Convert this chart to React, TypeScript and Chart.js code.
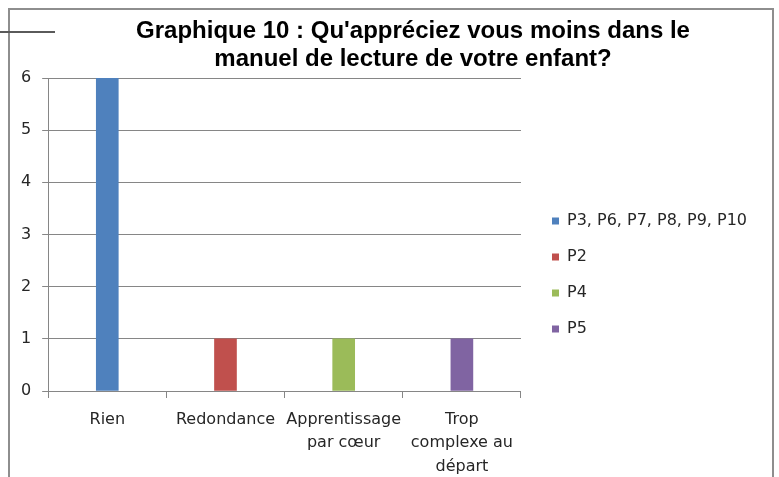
import React, { useEffect, useRef } from "react";
import { Chart, registerables } from "chart.js";

Chart.register(...registerables);

// ---- data ----
const titleLines = [
  "Graphique 10 : Qu'appréciez vous moins dans le",
  "manuel de lecture de votre enfant?",
];
const categories: (string | string[])[] = [
  "Rien",
  "Redondance",
  ["Apprentissage", "par cœur"],
  ["Trop", "complexe au", "départ"],
];
const seriesNames = ["P3, P6, P7, P8, P9, P10", "P2", "P4", "P5"];
const seriesP3toP10 = [6, null, null, null];
const seriesP2 = [null, 1, null, null];
const seriesP4 = [null, null, 1, null];
const seriesP5 = [null, null, null, 1];
const yMin = 0;
const yMax = 6;
const yStep = 1;

// ---- styles ----
const seriesColors = ["#4F81BD", "#C0504D", "#9BBB59", "#8064A2"];
const gridColor = "#868686";
const textColor = "#262626";
const labelFont = { family: "'DejaVu Sans', sans-serif", size: 16 };

export default function App() {
  const ref = useRef<HTMLCanvasElement | null>(null);

  useEffect(() => {
    if (!ref.current) return;
    const values = [seriesP3toP10, seriesP2, seriesP4, seriesP5];
    const chart = new Chart(ref.current, {
      type: "bar",
      data: {
        labels: categories,
        datasets: seriesNames.map((name, i) => ({
          label: name,
          data: values[i],
          backgroundColor: seriesColors[i],
          borderWidth: 0,
          barThickness: 22,
          skipNull: true,
        })),
      },
      options: {
        animation: false,
        responsive: false,
        layout: { padding: 0 },
        plugins: {
          title: {
            display: true,
            text: titleLines,
            color: "#000000",
            font: { family: "'Liberation Sans', Arial, sans-serif", size: 24, weight: "bold", lineHeight: 1.1667 },
            padding: { top: 7.5, bottom: 4.5 },
          },
          legend: {
            display: true,
            position: "right",
            align: "center",
            maxWidth: 320,
            labels: {
              boxWidth: 7,
              boxHeight: 7,
              padding: 20,
              color: textColor,
              font: labelFont,
            },
          },
          tooltip: { enabled: false },
        },
        scales: {
          x: {
            type: "category",
            offset: true,
            grid: {
              display: true,
              drawOnChartArea: false,
              drawTicks: true,
              tickLength: 7,
              color: gridColor,
              offset: true,
            },
            border: { display: true, color: gridColor, width: 1 },
            ticks: {
              color: textColor,
              font: { ...labelFont, lineHeight: 1.47 },
              padding: 10,
              maxRotation: 0,
              minRotation: 0,
              autoSkip: false,
            },
            afterFit: (s: any) => {
              s.height = 149;
            },
          },
          y: {
            type: "linear",
            position: "left",
            min: yMin,
            max: yMax,
            grid: { color: gridColor, tickLength: 6, drawTicks: true },
            border: { display: true, color: gridColor, width: 1 },
            ticks: { stepSize: yStep, color: textColor, font: labelFont, padding: 11 },
          },
          gapInner: {
            type: "linear",
            position: "right",
            weight: 0,
            min: 0,
            max: 1,
            grid: { display: false },
            border: { display: false },
            ticks: { display: false },
            afterFit: (s: any) => {
              s.width = 11;
            },
          },
          gapOuter: {
            type: "linear",
            position: "right",
            weight: 2000,
            min: 0,
            max: 1,
            grid: { display: false },
            border: { display: false },
            ticks: { display: false },
            afterFit: (s: any) => {
              s.width = 59;
            },
          },
        },
      } as any,
    });
    return () => chart.destroy();
  }, []);

  return (
    <div style={{ position: "fixed", inset: 0, overflow: "hidden", background: "#ffffff" }}>
      <div
        style={{
          position: "absolute",
          left: 8,
          top: 8,
          width: 762,
          height: 600,
          border: "2px solid #8e8e8e",
          boxSizing: "content-box",
        }}
      />
      <div style={{ position: "absolute", left: 0, top: 31, width: 55, height: 2, background: "#5a5a5a" }} />
      <canvas
        ref={ref}
        width={806}
        height={530}
        style={{ position: "absolute", left: 10, top: 10, width: 806, height: 530 }}
      />
    </div>
  );
}
